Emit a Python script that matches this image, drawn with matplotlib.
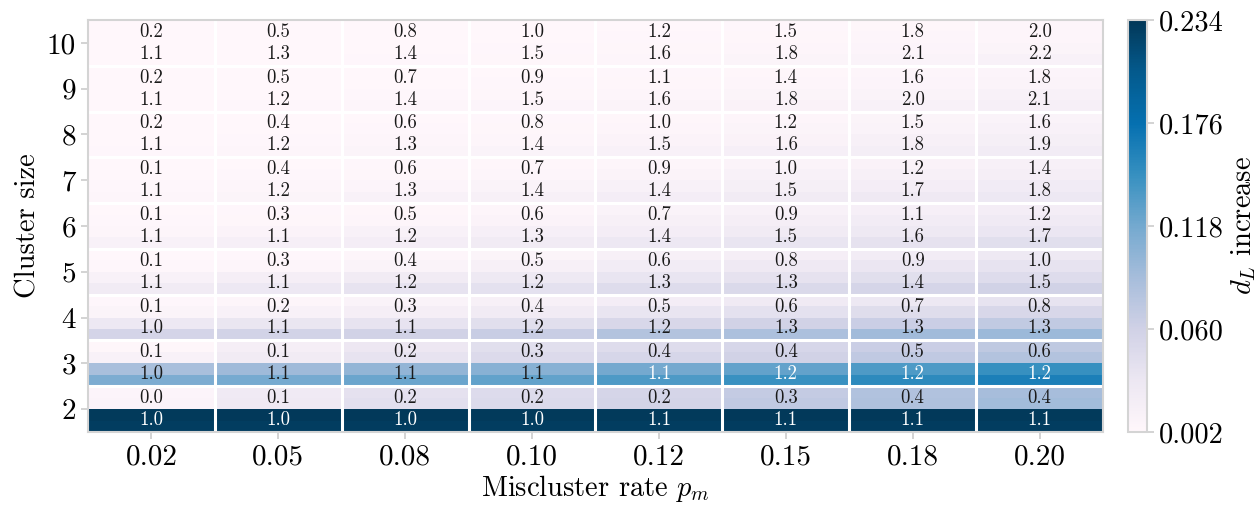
import numpy as np
import matplotlib
matplotlib.use("Agg")
import matplotlib.pyplot as plt

plt.rcParams["font.family"] = "serif"
plt.rcParams["font.serif"] = ["cmr10", "DejaVu Serif"]
plt.rcParams["mathtext.fontset"] = "cm"
plt.rcParams["axes.formatter.use_mathtext"] = True

rates = ["0.02", "0.05", "0.08", "0.10", "0.12", "0.15", "0.18", "0.20"]
sizes = [10, 9, 8, 7, 6, 5, 4, 3, 2]

# annotated values: upper line and lower line of each cell, rows follow `sizes`
top_vals = [
    [0.2, 0.5, 0.8, 1.0, 1.2, 1.5, 1.8, 2.0],
    [0.2, 0.5, 0.7, 0.9, 1.1, 1.4, 1.6, 1.8],
    [0.2, 0.4, 0.6, 0.8, 1.0, 1.2, 1.5, 1.6],
    [0.1, 0.4, 0.6, 0.7, 0.9, 1.0, 1.2, 1.4],
    [0.1, 0.3, 0.5, 0.6, 0.7, 0.9, 1.1, 1.2],
    [0.1, 0.3, 0.4, 0.5, 0.6, 0.8, 0.9, 1.0],
    [0.1, 0.2, 0.3, 0.4, 0.5, 0.6, 0.7, 0.8],
    [0.1, 0.1, 0.2, 0.3, 0.4, 0.4, 0.5, 0.6],
    [0.0, 0.1, 0.2, 0.2, 0.2, 0.3, 0.4, 0.4],
]
bottom_vals = [
    [1.1, 1.3, 1.4, 1.5, 1.6, 1.8, 2.1, 2.2],
    [1.1, 1.2, 1.4, 1.5, 1.6, 1.8, 2.0, 2.1],
    [1.1, 1.2, 1.3, 1.4, 1.5, 1.6, 1.8, 1.9],
    [1.1, 1.2, 1.3, 1.4, 1.4, 1.5, 1.7, 1.8],
    [1.1, 1.1, 1.2, 1.3, 1.4, 1.5, 1.6, 1.7],
    [1.1, 1.1, 1.2, 1.2, 1.3, 1.3, 1.4, 1.5],
    [1.0, 1.1, 1.1, 1.2, 1.2, 1.3, 1.3, 1.3],
    [1.0, 1.1, 1.1, 1.1, 1.1, 1.2, 1.2, 1.2],
    [1.0, 1.0, 1.0, 1.0, 1.1, 1.1, 1.1, 1.1],
]

# d_L increase, four stripes per cluster size (top to bottom)
dl_increase = {
    10: [[0.002, 0.002, 0.002, 0.002, 0.002, 0.003, 0.004, 0.005],
         [0.002, 0.002, 0.002, 0.002, 0.003, 0.004, 0.005, 0.006],
         [0.002, 0.002, 0.002, 0.003, 0.004, 0.005, 0.007, 0.008],
         [0.002, 0.002, 0.003, 0.004, 0.006, 0.008, 0.010, 0.012]],
    9: [[0.002, 0.002, 0.002, 0.002, 0.003, 0.004, 0.005, 0.007],
        [0.002, 0.002, 0.002, 0.003, 0.004, 0.006, 0.007, 0.009],
        [0.002, 0.002, 0.003, 0.004, 0.006, 0.008, 0.010, 0.012],
        [0.002, 0.003, 0.005, 0.007, 0.009, 0.011, 0.013, 0.016]],
    8: [[0.002, 0.002, 0.002, 0.003, 0.004, 0.006, 0.008, 0.010],
        [0.002, 0.002, 0.003, 0.004, 0.006, 0.008, 0.010, 0.013],
        [0.002, 0.003, 0.005, 0.006, 0.009, 0.011, 0.014, 0.017],
        [0.003, 0.005, 0.008, 0.010, 0.013, 0.016, 0.019, 0.022]],
    7: [[0.002, 0.002, 0.003, 0.004, 0.006, 0.009, 0.011, 0.014],
        [0.002, 0.003, 0.004, 0.006, 0.009, 0.012, 0.015, 0.018],
        [0.003, 0.005, 0.007, 0.010, 0.013, 0.017, 0.020, 0.023],
        [0.005, 0.008, 0.012, 0.015, 0.020, 0.024, 0.027, 0.030]],
    6: [[0.002, 0.003, 0.004, 0.006, 0.010, 0.013, 0.016, 0.020],
        [0.003, 0.004, 0.006, 0.009, 0.014, 0.018, 0.022, 0.026],
        [0.006, 0.009, 0.012, 0.016, 0.020, 0.024, 0.028, 0.032],
        [0.012, 0.016, 0.020, 0.024, 0.030, 0.034, 0.038, 0.042]],
    5: [[0.002, 0.003, 0.005, 0.008, 0.014, 0.018, 0.022, 0.028],
        [0.003, 0.006, 0.010, 0.014, 0.022, 0.027, 0.032, 0.036],
        [0.012, 0.018, 0.024, 0.028, 0.034, 0.038, 0.042, 0.046],
        [0.024, 0.030, 0.036, 0.040, 0.046, 0.050, 0.055, 0.060]],
    4: [[0.003, 0.006, 0.010, 0.014, 0.020, 0.025, 0.030, 0.036],
        [0.008, 0.012, 0.018, 0.024, 0.034, 0.040, 0.045, 0.052],
        [0.030, 0.033, 0.036, 0.042, 0.052, 0.060, 0.064, 0.070],
        [0.056, 0.058, 0.060, 0.066, 0.080, 0.085, 0.092, 0.095]],
    3: [[0.004, 0.018, 0.031, 0.042, 0.046, 0.054, 0.064, 0.072],
        [0.012, 0.024, 0.037, 0.048, 0.054, 0.060, 0.071, 0.080],
        [0.087, 0.093, 0.100, 0.107, 0.118, 0.126, 0.136, 0.147],
        [0.113, 0.117, 0.122, 0.127, 0.136, 0.146, 0.152, 0.162]],
    2: [[0.007, 0.025, 0.039, 0.047, 0.055, 0.069, 0.081, 0.089],
        [0.009, 0.027, 0.041, 0.049, 0.057, 0.071, 0.083, 0.091],
        [0.232, 0.233, 0.233, 0.232, 0.232, 0.233, 0.233, 0.232],
        [0.229, 0.229, 0.230, 0.229, 0.229, 0.230, 0.230, 0.229]],
}

vmin, vmax = 0.002, 0.234

# stack stripes bottom-up for pcolormesh
grid = []
for s in sizes[::-1]:
    grid.extend(dl_increase[s][::-1])
grid = np.array(grid)

x_edges = np.arange(len(rates) + 1) - 0.5
y_edges = np.linspace(1.5, 10.5, 4 * len(sizes) + 1)

fig = plt.figure(figsize=(12.6, 5.05), dpi=100)
ax = fig.add_axes([0.0698, 0.1446, 0.8056, 0.8158])
cax = fig.add_axes([0.8952, 0.1446, 0.0151, 0.8158])

mesh = ax.pcolormesh(x_edges, y_edges, grid, cmap="PuBu", vmin=vmin, vmax=vmax)

# white separators between cells
for y in np.arange(2.5, 10.5, 1.0):
    ax.axhline(y, color="white", lw=2.2)
for x in np.arange(0.5, len(rates) - 0.5, 1.0):
    ax.axvline(x, color="white", lw=2.2)

for i, s in enumerate(sizes):
    for j in range(len(rates)):
        lower = dl_increase[s][2][j] + dl_increase[s][3][j]
        top_c = "white" if np.mean(dl_increase[s][:2], axis=0)[j] > 0.125 else "#1a1a1a"
        bot_c = "white" if lower / 2 > 0.125 else "#1a1a1a"
        ax.text(j, s + 0.24, f"{top_vals[i][j]:.1f}", ha="center", va="center",
                fontsize=13.5, color=top_c)
        ax.text(j, s - 0.24, f"{bottom_vals[i][j]:.1f}", ha="center", va="center",
                fontsize=13.5, color=bot_c)

ax.set_xlim(-0.5, len(rates) - 0.5)
ax.set_ylim(1.5, 10.5)
ax.set_xticks(range(len(rates)))
ax.set_xticklabels(rates)
ax.set_yticks(sizes)
ax.set_yticklabels([str(s) for s in sizes])
ax.tick_params(labelsize=21, color="#cccccc", length=5, width=1.2)
ax.set_xlabel("Miscluster rate $p_m$", fontsize=20.5, labelpad=2)
ax.set_ylabel("Cluster size", fontsize=20.5)
for sp in ax.spines.values():
    sp.set_color("#d4d4d4")
    sp.set_linewidth(1.5)

cb = fig.colorbar(mesh, cax=cax, ticks=np.linspace(vmin, vmax, 5))
cb.ax.set_yticklabels([f"{t:.3f}" for t in np.linspace(vmin, vmax, 5)])
cb.ax.tick_params(labelsize=20.5, color="#cccccc", length=5, width=1.2)
cb.outline.set_edgecolor("#d4d4d4")
cb.outline.set_linewidth(1.5)
cb.set_label("$d_L$ increase", fontsize=20.5)

fig.savefig("out.png", dpi=100)
